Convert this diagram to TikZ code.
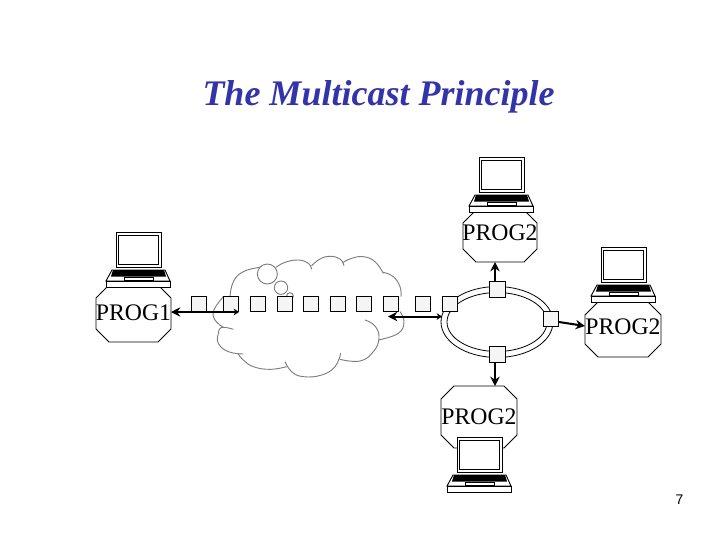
\documentclass[tikz,border=0pt]{standalone}
\usepackage{fontspec}
\setmainfont{Liberation Serif}
\newfontfamily\pagefont{Liberation Sans}
\usetikzlibrary{shapes.geometric,arrows.meta}
\definecolor{titleblue}{RGB}{51,51,170}
\definecolor{cloudgray}{RGB}{125,125,125}
\definecolor{pktfill}{RGB}{245,245,245}
\newcommand{\octa}[4]{% left, top, right, bottom
  \draw[line width=0.7pt,fill=white] ({#1+13},#2) -- ({#3-13},#2) -- (#3,{#2+13}) -- (#3,{#4-13}) -- ({#3-13},#4) -- ({#1+13},#4) -- (#1,{#4-13}) -- (#1,{#2+13}) -- cycle;
}
\tikzset{
  prog/.style={inner sep=0pt,font=\fontsize{17.8}{18}\selectfont},
  pkt/.style={draw=black,fill=pktfill,line width=0.85pt,minimum size=11.6pt,inner sep=0pt},
  ringline/.style={draw=black,line width=0.6pt,ellipse,inner sep=0pt},
  cloudline/.style={draw=cloudgray,line width=0.7pt,smooth,tension=0.75},
  link/.style={draw=black,line width=1.5pt,-{Stealth[length=7pt,width=7pt]}},
  biglink/.style={draw=black,line width=1.5pt,{Stealth[length=7pt,width=7pt]}-{Stealth[length=4pt,width=5pt]}},
  laptop/.pic={
    \draw[line width=0.75pt,fill=white] (0,0) rectangle (45,35);
    \draw[line width=0.75pt] (2.5,3) rectangle (42.5,32);
    \draw[line width=0.7pt,fill=white] (-4,38) -- (49,38) -- (54,49) -- (-10,49) -- cycle;
    \fill (-3,38) -- (48,38) -- (50,44.5) -- (-5,44.5) -- cycle;
    \draw[line width=0.6pt] (8,45) rectangle (37,48);
    \draw[line width=0.75pt,fill=white] (-10,49) rectangle (54,55);
  }
}
\begin{document}
\begin{tikzpicture}[x=0.75pt,y=-0.75pt]
\useasboundingbox (0,0) rectangle (720,540);
\node[font=\fontsize{27}{28}\selectfont\bfseries\itshape,text=titleblue,inner sep=0pt] (title) at (378.5,97) {The Multicast Principle};
% cloud
\begin{scope}[shift={(200,250)},x=0.25pt,y=-0.25pt]
\draw[cloudline] plot coordinates {(90,140) (100,95) (130,65) (180,52)};
\draw[cloudline] plot coordinates {(228,52) (255,37) (295,30) (325,40) (335,58)};
\draw[cloudline] plot coordinates {(335,47) (360,27) (390,19) (420,27) (432,47)};
\draw[cloudline] plot coordinates {(428,38) (455,25) (490,20) (525,35) (550,70)};
\draw[cloudline] plot coordinates {(550,67) (580,80) (600,110) (603,140)};
\draw[cloudline] plot coordinates {(600,185) (612,215) (595,250) (535,270)};
\draw[cloudline] plot coordinates {(495,210) (525,228) (537,265) (520,305) (480,333) (420,328)};
\draw[cloudline] plot coordinates {(422,310) (405,350) (365,375) (310,380) (275,365) (255,335)};
\draw[cloudline] plot coordinates {(260,350) (210,358) (160,350) (130,330) (115,312)};
\draw[cloudline] plot coordinates {(130,312) (85,305) (55,280) (55,250) (65,232) (100,238)};
\draw[cloudline] plot coordinates {(70,232) (45,210) (42,180) (70,140)};
\draw[draw=cloudgray,line width=0.7pt] (202,72) circle (30);
\draw[draw=cloudgray,line width=0.7pt] (243,113) circle (20);
\draw[draw=cloudgray,line width=0.7pt] (270,138) circle (10);
\end{scope}
% octagons
\octa{96}{285}{171}{342}
\octa{463}{210}{537}{262}
\octa{585}{302}{661}{357}
\octa{441}{386}{517}{448}
\node[prog] (p1) at (133.5,312.5) {PROG1};
\node[prog] (p2) at (500,232.5) {PROG2};
\node[prog] (p3) at (623,326.5) {PROG2};
\node[prog] (p4) at (479,416.5) {PROG2};
\pic at (116,232) {laptop};
\pic at (479,157) {laptop};
\pic at (601,247) {laptop};
\pic at (457,437) {laptop};
% ring
\node[ringline,minimum width=84pt,minimum height=53.2pt] (ringo) at (497,322) {};
\node[ringline,minimum width=75pt,minimum height=44.2pt] (ringi) at (497,322) {};
% packets
\foreach \n/\x in {a/199,b/231,c/258,d/285,e/311,f/338,g/364,h/391,i/423,j/450}{
  \node[pkt] (\n) at (\x,304) {};
}
\node[pkt] (top) at (497.5,289.5) {};
\node[pkt] (rgt) at (551,319) {};
\node[pkt] (bot) at (497.5,354.5) {};
\coordinate (w1) at (239,312);
\coordinate (w2) at (388,316.5);
\coordinate (w3) at (442,316.5);
\coordinate (w4) at (171,312);
\coordinate (w5) at (495,386);
\coordinate (w6) at (495,262);
\coordinate (w7) at (585,326);
\coordinate (w8) at (559,322);
\coordinate (w9) at (495,282);
\coordinate (w10) at (495,362);
\draw[biglink] (w4) -- (w1);
\draw[biglink] (w2) -- (w3);
\draw[link] (w9) -- (w6);
\draw[link] (w10) -- (w5);
\draw[link] (w8) -- (w7);
\node[font=\pagefont\fontsize{10.5}{11}\selectfont,inner sep=0pt] (num) at (679.5,499.5) {7};
\end{tikzpicture}
\end{document}
